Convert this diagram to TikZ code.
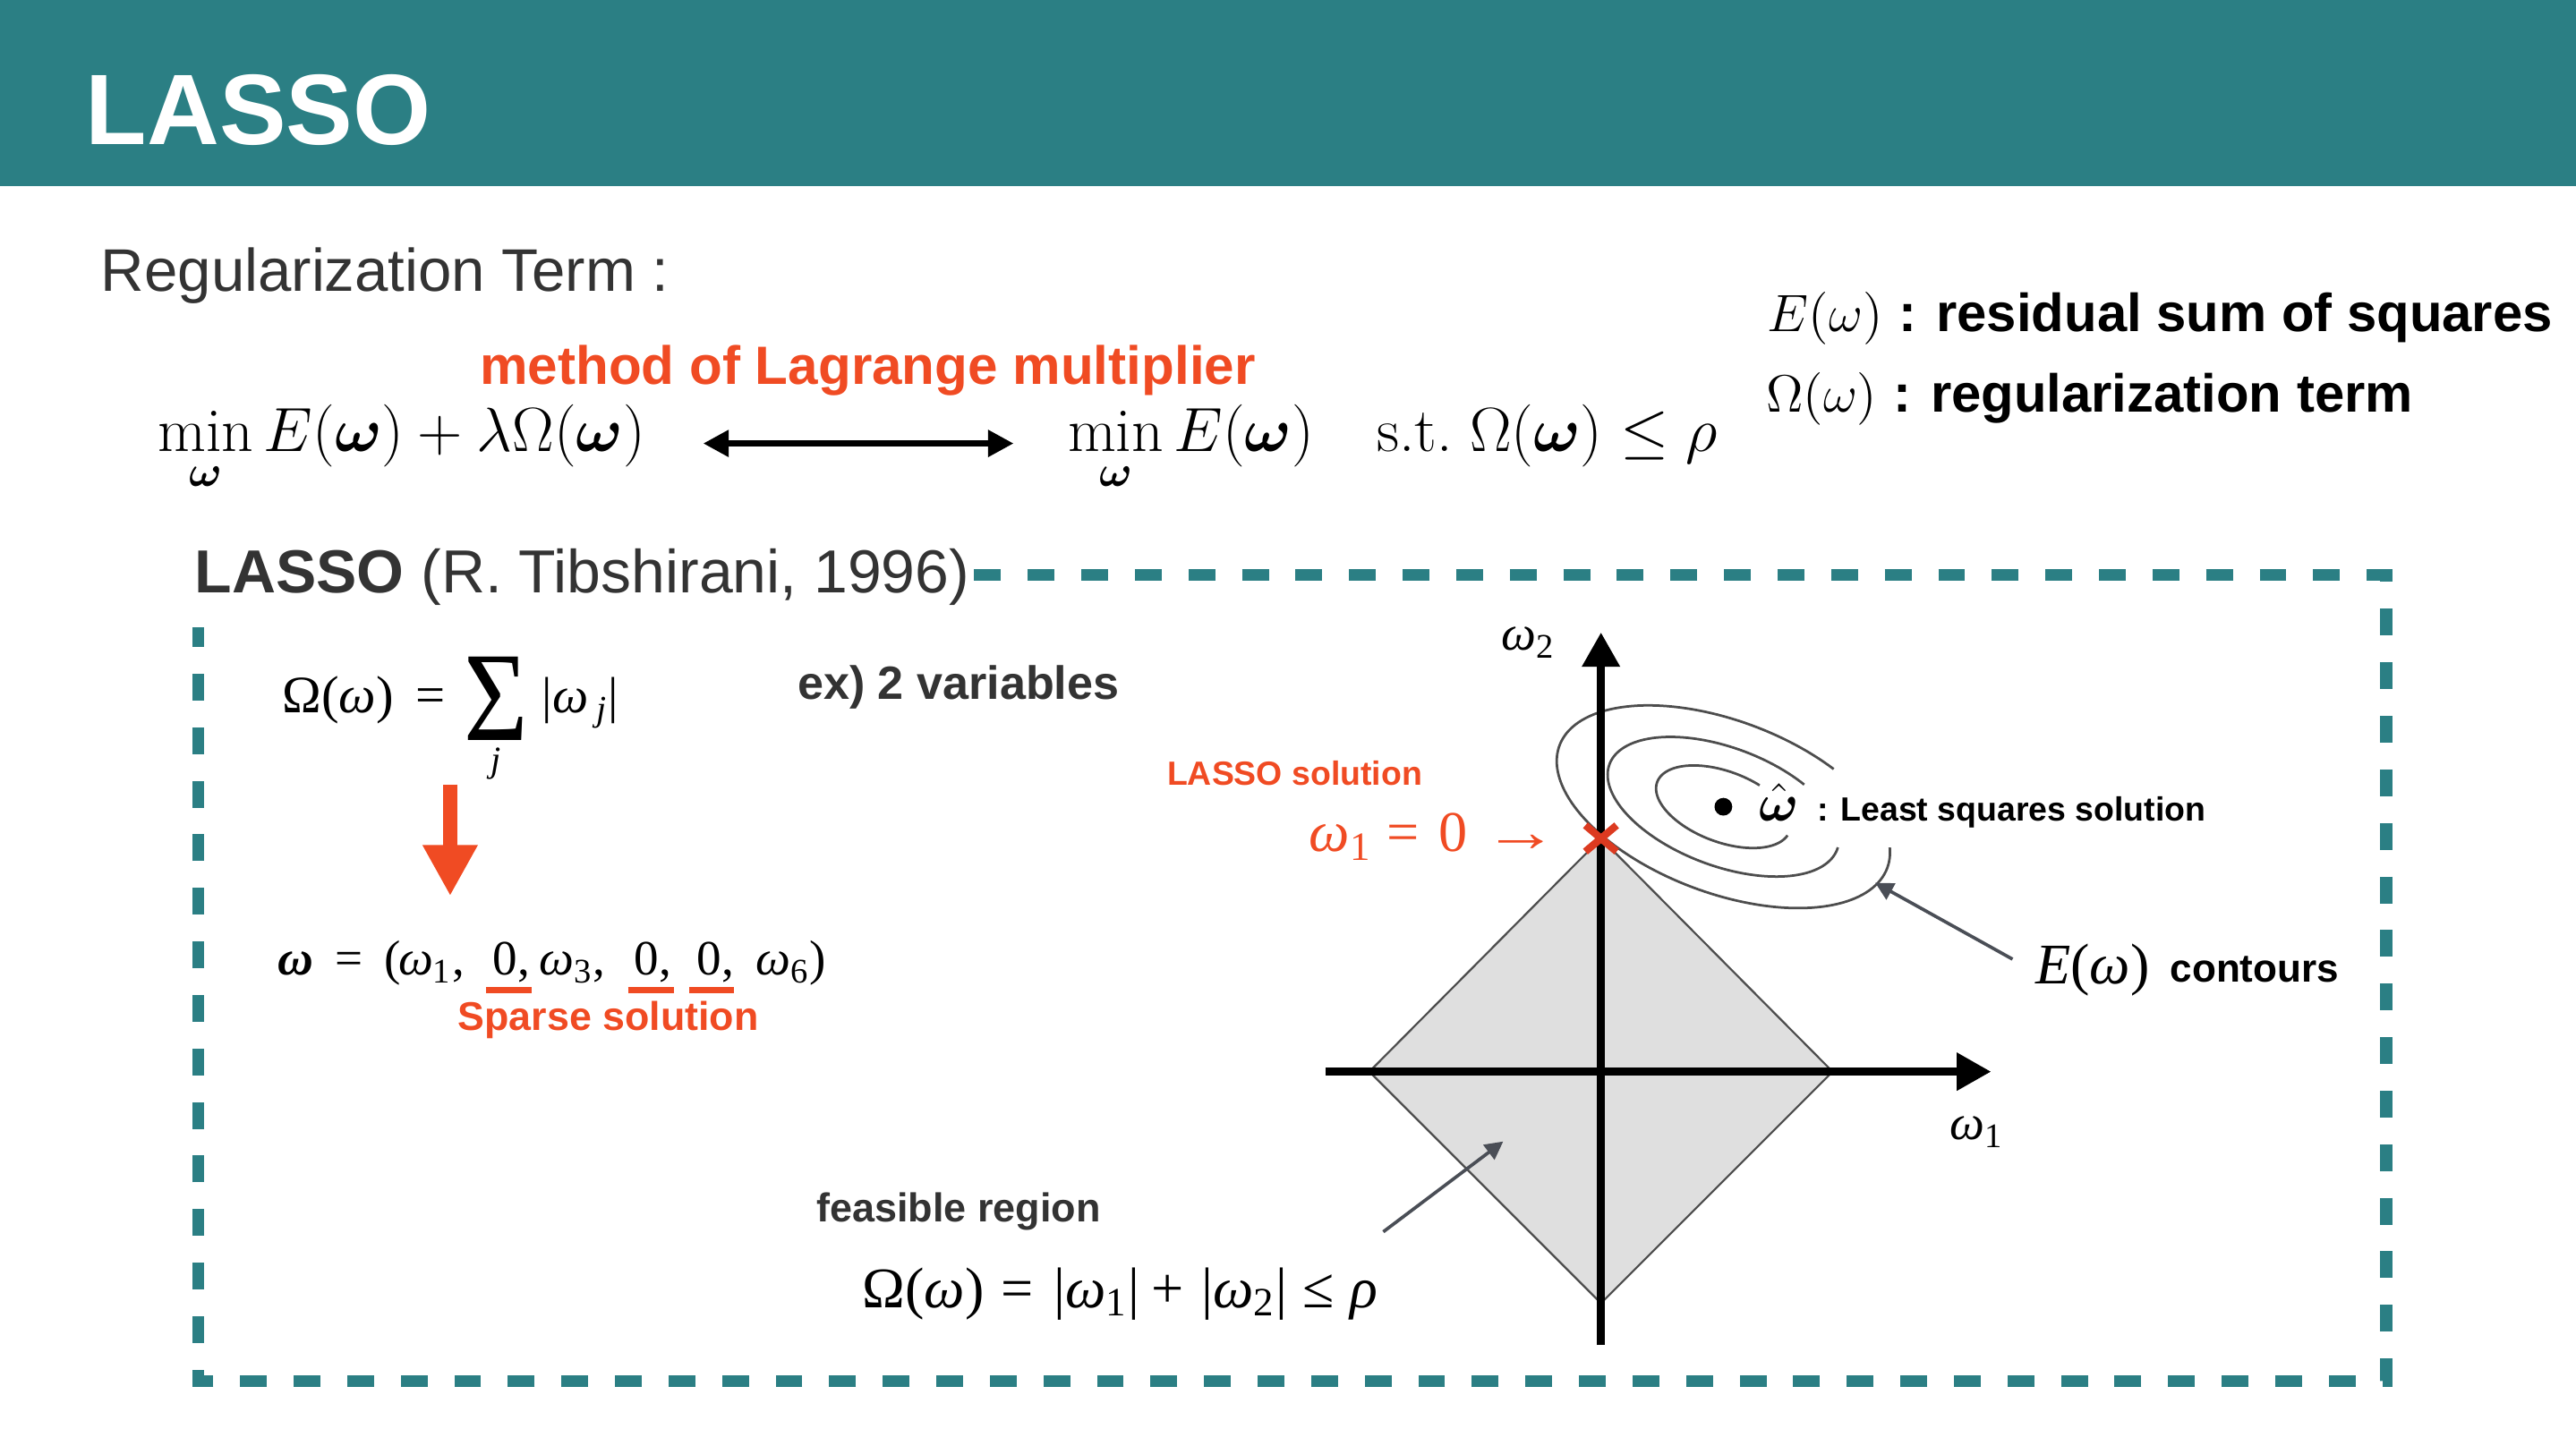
\RequirePackage{fix-cm}
\documentclass[tikz,border=0pt]{standalone}
\usepackage{amsmath,bm}
\usepackage{graphicx}
\usepackage{fontspec}
\setsansfont{Liberation Sans}
\newfontfamily\tms{Liberation Serif}
\usetikzlibrary{arrows.meta}
\newcommand\fsz[1]{\fontsize{#1pt}{#1pt}\selectfont}
\definecolor{teal1}{RGB}{43,127,132}
\definecolor{ored}{RGB}{240,75,35}
\definecolor{xred}{RGB}{220,58,32}
\definecolor{dgray}{RGB}{51,51,51}
\definecolor{agray}{RGB}{74,78,86}
\definecolor{cgray}{RGB}{77,77,77}
\definecolor{dfill}{RGB}{223,223,223}
\begin{document}
\begin{tikzpicture}[x=0.5pt,y=-0.5pt,
  every node/.style={inner sep=0pt,outer sep=0pt,anchor=base west},
  sanstxt/.style={font=\sffamily\fsz{#1}},
  boldtxt/.style={font=\sffamily\bfseries\fsz{#1}},
  tmtxt/.style={font=\tms\fsz{#1}},
  axisline/.style={line width=2.5pt,-{Triangle[length=10.5pt,width=11pt]}},
  pointer/.style={agray,line width=1pt,-{Triangle[length=5.5pt,width=5.5pt]}},
  contour/.style={cgray,line width=0.75pt},
  dashbox/.style={teal1,line width=3.6pt,dash pattern=on 8.15pt off 8.15pt}]
\useasboundingbox (0,0) rectangle (1568,880.43);
% header
\fill[teal1] (0,0) rectangle (1568,113.3);
\node[boldtxt=30.5,text=white] (title) at (52.2,88.2) {LASSO};
\node[sanstxt=18.3,text=dgray] (reg) at (61.5,177.6) {Regularization Term :};
\node[boldtxt=16.4,text=ored] (lag) at (292.2,234) {method of Lagrange multiplier};
\node[font=\fsz{19}] (eqa) at (96,275.1) {$\displaystyle\min_{\bm{\omega}} E(\bm{\omega})+\lambda\Omega(\bm{\omega})$};
\node[font=\fsz{19}] (eqb) at (650,275.1) {$\displaystyle\min_{\bm{\omega}} E(\bm{\omega})\quad\text{s.t.}\;\Omega(\bm{\omega})\le\rho$};
\coordinate (la) at (428,270);
\coordinate (lb) at (617,270);
\draw[line width=2.1pt,{Triangle[length=7.8pt,width=7.8pt]}-{Triangle[length=7.8pt,width=7.8pt]}] (la) -- (lb);
% legend
\node (lega) at (1076,201.6) {\fsz{16}$E(\omega)$ {\sffamily\bfseries\fsz{16.3}: residual sum of squares}};
\node (legb) at (1075,251) {\fsz{16}$\Omega(\omega)$ {\sffamily\bfseries\fsz{16.3}: regularization term}};
% dashed box
\draw[dashbox] (593,350) -| (1452.5,841) -| (120.5,382);
\node[sanstxt=18.5,text=dgray] (lassolbl) at (118.6,361) {\textbf{LASSO} (R. Tibshirani, 1996)};
% Omega = sum
\node[tmtxt=16] (oma) at (172,434) {Ω(\textit{ω})};
\node[tmtxt=16] (omeq) at (253,434) {=};
\node (sig) at (282.4,450.7) {\resizebox{19.5pt}{25.4pt}{\tms Σ}};
\node[tmtxt=11] (sj) at (298.6,470) {\itshape j};
\node[tmtxt=15.5] (omb) at (330,434) {|\textit{ω}\,\textsubscript{\itshape j}|};
\coordinate (ra1) at (274,477.6);
\coordinate (ra2) at (274,545.5);
\draw[ored,line width=4.25pt,-{Triangle[length=15.5pt,width=15.7pt]}] (ra1) -- (ra2);
% omega vector
\node[tmtxt=15] (wv0) at (169.3,593.8) {\bfseries\itshape ω};
\node[tmtxt=15] (wv1) at (204,593.8) {=};
\node[tmtxt=15] (wv2) at (234,593.8) {(};
\node[tmtxt=15] (wv3) at (242.5,593.8) {\itshape ω\textsubscript{\upshape 1}\upshape,};
\node[tmtxt=15] (wv4) at (300,593.8) {0,};
\node[tmtxt=15] (wv5) at (328.5,593.8) {\itshape ω\textsubscript{\upshape 3}\upshape,};
\node[tmtxt=15] (wv6) at (386.2,593.8) {0,};
\node[tmtxt=15] (wv7) at (424.4,593.8) {0,};
\node[tmtxt=15] (wv8) at (460,593.8) {\itshape ω\textsubscript{\upshape 6}\upshape)};
\draw[ored,line width=1.9pt] (295.7,603) -- (323.6,603) (382.3,603) -- (410,603) (419.5,603) -- (447,603);
\node[boldtxt=12.2,text=ored] (sparse) at (278.7,627.4) {Sparse solution};
\node[boldtxt=14.2,text=dgray] (ex) at (485.5,426) {ex) 2 variables};
% plot
\filldraw[fill=dfill,draw=cgray,line width=0.6pt] (974.5,510.5) -- (1115.5,652.5) -- (974.5,793.5) -- (833.5,652.5) -- cycle;
\draw[contour] plot[domain=-13.5:301,samples=140,variable=\t] ({1049+106.5*cos(\t)*0.9367-52.5*sin(\t)*0.3502},{491.2+106.5*cos(\t)*0.3502+52.5*sin(\t)*0.9367});
\draw[contour] plot[domain=-2:304,samples=120,variable=\t] ({1049+74*cos(\t)*0.9367-36*sin(\t)*0.3502},{491.2+74*cos(\t)*0.3502+36*sin(\t)*0.9367});
\draw[contour] plot[domain=7:292,samples=100,variable=\t] ({1049+43*cos(\t)*0.9367-21.5*sin(\t)*0.3502},{491.2+43*cos(\t)*0.3502+21.5*sin(\t)*0.9367});
\coordinate (ha) at (807,652.5);
\coordinate (hb) at (1212,652.5);
\coordinate (va) at (974.5,819);
\coordinate (vb) at (974.5,385);
\draw[axisline] (ha) -- (hb);
\draw[axisline] (va) -- (vb);
\node[tmtxt=15] (axb) at (914,396) {\itshape ω\textsubscript{\upshape 2}};
\node[tmtxt=15] (axa) at (1187,694) {\itshape ω\textsubscript{\upshape 1}};
\draw[xred,line width=2.25pt] (965,502.5) -- (984,518.5) (965,518.5) -- (984,502.5);
\node[boldtxt=10.2,text=ored] (lsol) at (710.5,478) {LASSO solution};
\node[tmtxt=17.5,text=ored] (wza) at (797,518.5) {\itshape ω\textsubscript{\upshape 1}};
\node[tmtxt=17.5,text=ored] (wzb) at (844,518.5) {=};
\node[tmtxt=17.5,text=ored] (wzc) at (876,518.5) {0};
\node[tmtxt=17.5,text=ored] (wzd) at (903,518.5) {\scalebox{1.3}[1]{→}};
\fill (1049,491.2) circle[radius=2.7pt];
\node (lsq) at (1071,500) {\fsz{16}$\hat{\bm{\omega}}$\hspace{5.5pt}{\sffamily\bfseries\fsz{10.2}: Least squares solution}};
\coordinate (caa) at (1225,584);
\coordinate (cab) at (1141.4,537.5);
\draw[pointer] (caa) -- (cab);
\node[tmtxt=17.5] (econ) at (1239,599) {\itshape E\upshape(\itshape ω\upshape)};
\node[boldtxt=12] (cont) at (1321,598) {contours};
\coordinate (faa) at (842,750);
\coordinate (fab) at (915,695);
\draw[pointer] (faa) -- (fab);
\node[boldtxt=12.25,text=dgray] (feas) at (497,744) {feasible region};
\node[tmtxt=17.5] (fqa) at (525,796) {Ω(\textit{ω})};
\node[tmtxt=17.5] (fqb) at (609.5,796) {=};
\node[tmtxt=17.5] (fqc) at (641.5,796) {|\textit{ω}\textsubscript{1}|};
\node[tmtxt=17.5] (fqd) at (701,796) {+};
\node[tmtxt=17.5] (fqe) at (731.5,796) {|\textit{ω}\textsubscript{2}|};
\node[tmtxt=17.5] (fqf) at (793,796) {≤};
\node[tmtxt=17.5] (fqg) at (822,796) {\itshape ρ};
\end{tikzpicture}
\end{document}
